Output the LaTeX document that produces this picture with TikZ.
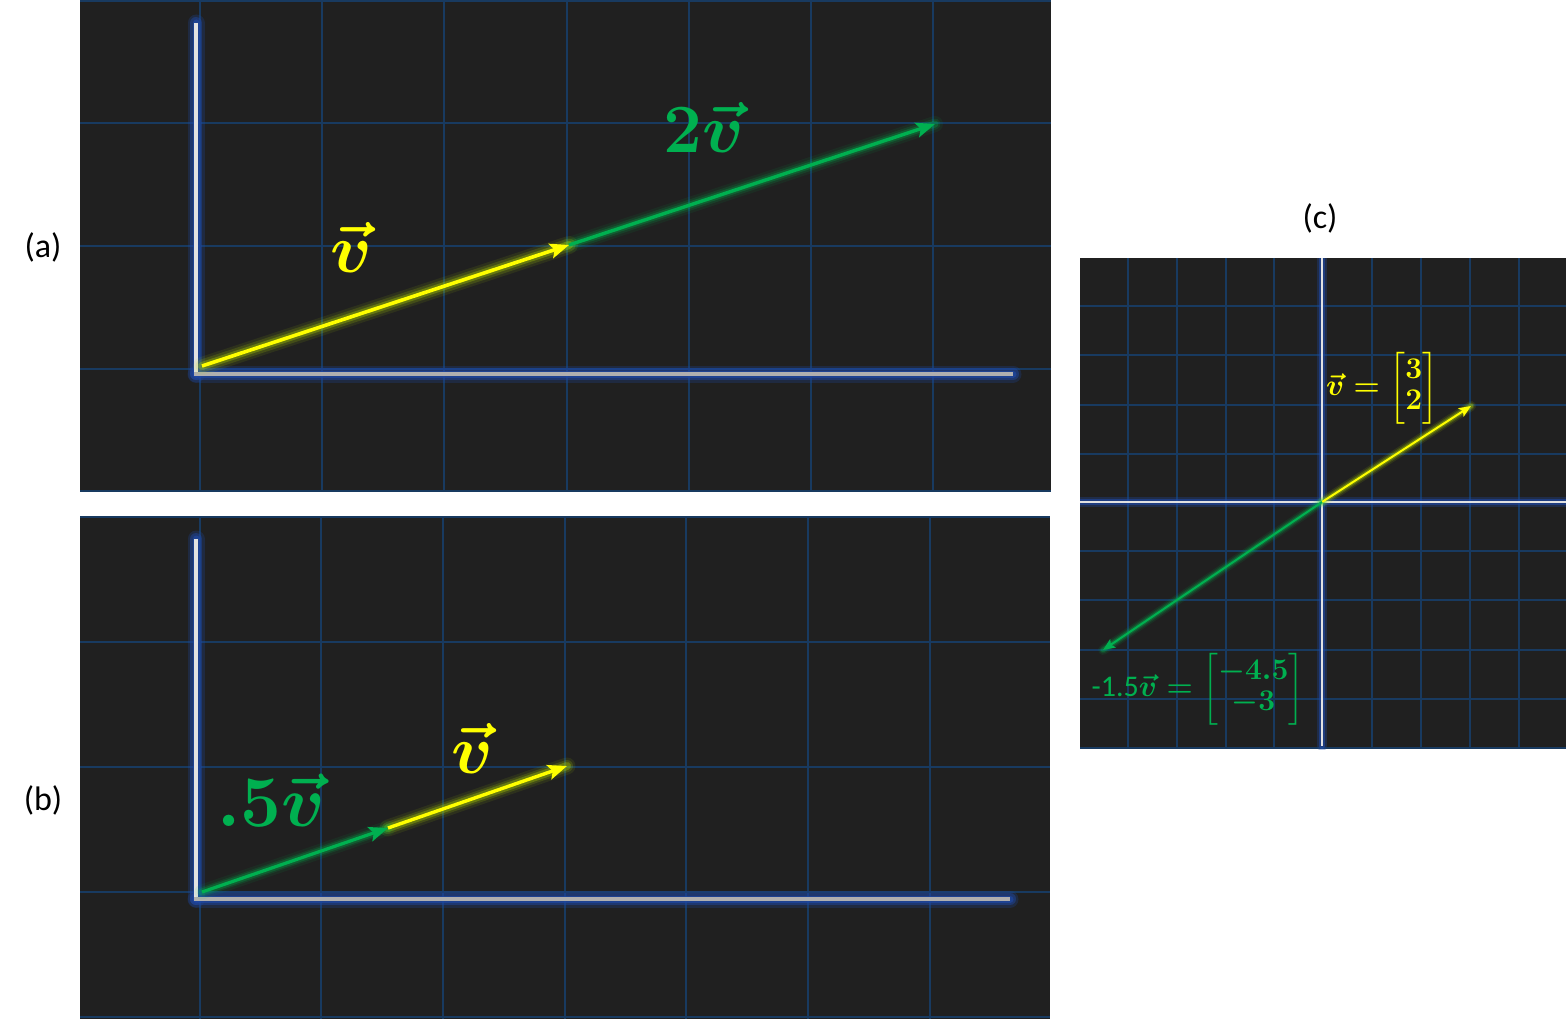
\documentclass[tikz,border=0pt]{standalone}
\usepackage{amsmath}
\usepackage{fontspec}
\newfontfamily\carlito{Carlito}
\usetikzlibrary{arrows.meta}
\definecolor{bg}{RGB}{32,32,32}
\definecolor{gridc}{RGB}{24,58,96}
\definecolor{axcore}{RGB}{225,225,225}
\definecolor{axglow}{RGB}{30,72,165}
\definecolor{vy}{RGB}{255,255,0}
\definecolor{vyglow}{RGB}{185,225,0}
\definecolor{vg}{RGB}{0,176,80}
\definecolor{vgglow}{RGB}{0,190,80}
\newcommand\glowseg[4]{%
  \foreach \w/\o in {#4}{\draw[#1, line width=\w pt, opacity=\o, line cap=round] (#2) -- (#3);}}
\begin{document}
\begin{tikzpicture}[x=1pt,y=-1pt,
  gridline/.style={draw=gridc, line width=1.1pt},
  axisline/.style={draw=axcore, line width=3.2pt},
  axisthin/.style={draw=axcore, line width=2.2pt},
  yvec/.style={draw=vy, line width=3.6pt, -{Stealth[length=19pt,width=15pt,inset=4pt]}},
  gvec/.style={draw=vg, line width=3.4pt, -{Stealth[length=19pt,width=15pt,inset=4pt]}},
  yvecs/.style={draw=vy, line width=2pt, -{Stealth[length=12pt,width=10pt,inset=2.5pt]}},
  gvecs/.style={draw=vg, line width=2pt, -{Stealth[length=12pt,width=10pt,inset=2.5pt]}},
  panellab/.style={font=\carlito\fontsize{34}{40}\selectfont, text=black, inner sep=0pt},
  biglab/.style={font=\fontsize{14.4}{17}\selectfont\boldmath, inner sep=0pt, scale=4.8, anchor=base},
  smalllab/.style={font=\fontsize{12}{14.4}\selectfont\boldmath, inner sep=0pt, scale=2.5}
]
\useasboundingbox (0,0) rectangle (1566,1019);
\fill[white] (0,0) rectangle (1566,1019);

% ---------------- panel (a)
\fill[bg] (80,0) rectangle (1051,492);
\begin{scope}
\clip (80,0) rectangle (1051,492);
\foreach \x in {200,322,444,567,689,811,933} \draw[gridline] (\x,0) -- (\x,492);
\foreach \y in {1,123,246,369,491} \draw[gridline] (80,\y) -- (1051,\y);
\end{scope}
\coordinate (aO) at (196,374);
\coordinate (aY) at (196,23);
\coordinate (aX) at (1013,374);
\glowseg{axglow}{aY}{aO}{17/0.25,12/0.45,7/0.65}
\glowseg{axglow}{aO}{aX}{17/0.25,12/0.45,7/0.65}
\draw[axisline, draw=axcore!95!white, line cap=butt] (aY) -- (aO);
\draw[axisline, draw=axcore!78!black, line cap=butt] ([xshift=-1.6pt]aO) -- (aX);
\coordinate (a0) at (202,366);
\coordinate (a1) at (569,245);
\coordinate (a2) at (935,124);
\glowseg{vgglow}{a1}{a2}{16/0.08,11/0.14,7/0.25}
\glowseg{vyglow}{a0}{a1}{18/0.09,13/0.16,8/0.3}
\draw[gvec] (a1) -- (a2);
\draw[yvec] (a0) -- (a1);
\node[biglab, text=vy] (av) at (351,272) {$\vec{v}$};
\node[biglab, text=vg] (a2v) at (704,153) {$2\vec{v}$};
\node[panellab] (la) at (43,247) {(a)};

% ---------------- panel (b)
\fill[bg] (80,516) rectangle (1050,1019);
\begin{scope}
\clip (80,516) rectangle (1050,1019);
\foreach \x in {200,321,443,565,686,808,930} \draw[gridline] (\x,516) -- (\x,1019);
\foreach \y in {517,642,767,892,1017} \draw[gridline] (80,\y) -- (1050,\y);
\end{scope}
\coordinate (bO) at (196,899);
\coordinate (bY) at (196,539);
\coordinate (bX) at (1010,899);
\glowseg{axglow}{bY}{bO}{17/0.25,12/0.45,7/0.65}
\glowseg{axglow}{bO}{bX}{17/0.25,12/0.45,7/0.65}
\draw[axisline, draw=axcore!95!white, line cap=butt] (bY) -- (bO);
\draw[axisline, draw=axcore!78!black, line cap=butt] ([xshift=-1.6pt]bO) -- (bX);
\coordinate (b0) at (202,892);
\coordinate (b1) at (388,828);
\coordinate (b2) at (567,766);
\glowseg{vyglow}{b1}{b2}{17/0.09,12/0.16,8/0.3}
\glowseg{vgglow}{b0}{b1}{15/0.08,10/0.14,7/0.25}
\draw[yvec, line width=3.4pt] (b1) -- (b2);
\draw[gvec, line width=3.2pt] (b0) -- (b1);
\node[biglab, text=vg, scale=1.05] (bhalf) at (271,826) {$.5\vec{v}$};
\node[biglab, text=vy] (bv) at (472,773) {$\vec{v}$};
\node[panellab] (lb) at (43,800) {(b)};

% ---------------- panel (c)
\fill[bg] (1080,258) rectangle (1566,749);
\begin{scope}
\clip (1080,258) rectangle (1566,749);
\foreach \x in {1128,1177,1226,1274,1372,1421,1470,1519} \draw[gridline] (\x,258) -- (\x,749);
\foreach \y in {306,355,405,454,551,600,650,699,748} \draw[gridline] (1080,\y) -- (1566,\y);
\end{scope}
\coordinate (cO) at (1322,502);
\coordinate (cT) at (1322,258);
\coordinate (cB) at (1322,746);
\coordinate (cL) at (1080,502);
\coordinate (cR) at (1566,502);
\begin{scope}
\clip (1080,258) rectangle (1566,749);
\glowseg{axglow}{cT}{cB}{10/0.3,6/0.6}
\glowseg{axglow}{cL}{cR}{10/0.3,6/0.6}
\end{scope}
\draw[axisthin, line cap=butt] (cT) -- (cB);
\draw[axisthin, line cap=butt] (cL) -- (cR);
\coordinate (cy) at (1471,406);
\coordinate (cg) at (1103,650);
\glowseg{vyglow}{cO}{cy}{10/0.1,7/0.18,4.5/0.3}
\glowseg{vgglow}{cO}{cg}{10/0.09,7/0.16,4.5/0.28}
\draw[yvecs] (cO) -- (cy);
\draw[gvecs] (cO) -- (cg);
\node[smalllab, text=vy] (cvl) at (1382,388)
  {\renewcommand\arraystretch{0.85}$\vec{v} = \begin{bmatrix}3\\2\end{bmatrix}$};
\node[smalllab, text=vg] (cgl) at (1198,689)
  {\renewcommand\arraystretch{0.85}$\text{\carlito -1.5}\vec{v} = \begin{bmatrix}-4.5\\-3\end{bmatrix}$};
\node[panellab] (lc) at (1320,218) {(c)};
\end{tikzpicture}
\end{document}
